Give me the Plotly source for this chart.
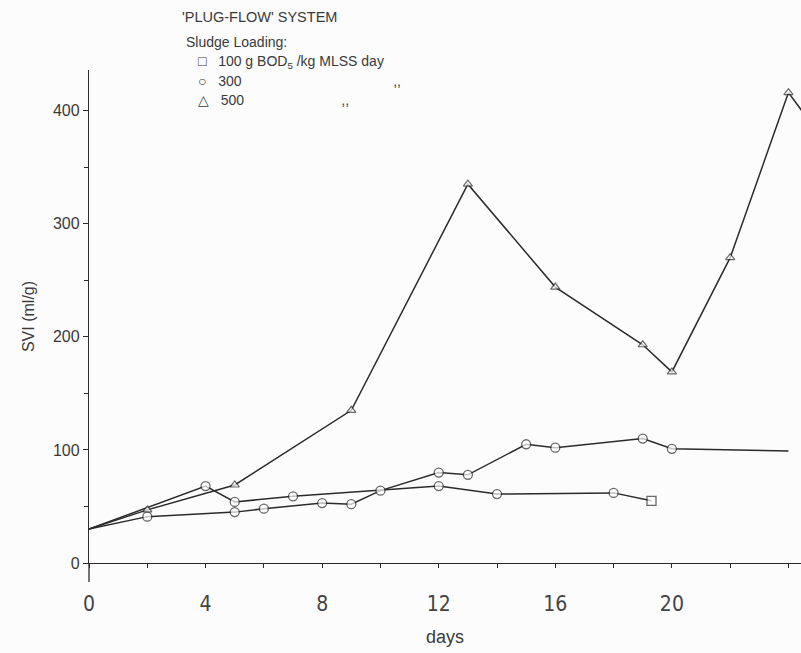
import plotly.graph_objects as go

# ---- data ----
days_100 = [0, 4, 5, 7, 12, 14, 18, 19.3]
svi_100 = [30, 68, 54, 59, 68, 61, 62, 55]

days_300 = [0, 2, 5, 6, 8, 9, 10, 12, 13, 15, 16, 19, 20, 24]
svi_300 = [30, 41, 45, 48, 53, 52, 64, 80, 78, 105, 102, 110, 101, 99]

days_500 = [0, 2, 5, 9, 13, 16, 19, 20, 22, 24, 25]
svi_500 = [30, 47, 69, 135, 335, 244, 193, 169, 270, 416, 381]

x_tick_vals = [0, 4, 8, 12, 16, 20]
x_tick_text = ["0", "4", "8", "12", "16", "20"]
y_tick_vals = [0, 100, 200, 300, 400]
y_tick_text = ["0", "100", "200", "300", "400"]

# ---- style ----
INK = "#2b2b2b"
TXT = "#3a3a3a"
BG = "#fcfcfc"
FONT = "Liberation Sans, Arial, sans-serif"
NARROW = "Liberation Sans Narrow, DejaVu Sans Condensed, Liberation Sans, sans-serif"

L, R, T, B = 89, 0, 70, 90
W, H = 801, 653
PW, PH = W - L - R, H - T - B


def px(x):
    return (x - L) / PW


def py(y):
    return (H - B - y) / PH


fig = go.Figure()

sizes_100 = [0] + [9] * (len(days_100) - 1)
symbols_100 = ["circle"] * (len(days_100) - 1) + ["square"]
fig.add_trace(go.Scatter(
    x=days_100, y=svi_100, mode="lines+markers",
    line=dict(color=INK, width=1.5),
    marker=dict(size=sizes_100, symbol=symbols_100, color="white",
                line=dict(color=INK, width=1.3)),
    name="100", showlegend=False))

sizes_300 = [0] + [9] * (len(days_300) - 2) + [0]
fig.add_trace(go.Scatter(
    x=days_300, y=svi_300, mode="lines+markers",
    line=dict(color=INK, width=1.5),
    marker=dict(size=sizes_300, symbol="circle", color="white",
                line=dict(color=INK, width=1.3)),
    name="300", showlegend=False))

sizes_500 = [0] + [8] * (len(days_500) - 2) + [0]
fig.add_trace(go.Scatter(
    x=days_500, y=svi_500, mode="lines+markers",
    line=dict(color=INK, width=1.5),
    marker=dict(size=sizes_500, symbol="triangle-up", color="white",
                line=dict(color=INK, width=1.2)),
    name="500", showlegend=False))

fig.update_layout(
    width=W, height=H,
    margin=dict(l=L, r=R, t=T, b=B),
    paper_bgcolor=BG, plot_bgcolor=BG,
    font=dict(family=FONT, color=TXT),
    title=dict(text="'PLUG-FLOW' SYSTEM", x=182 / W, xref="container",
               xanchor="left", y=1 - 17 / H, yref="container",
               yanchor="middle",
               font=dict(family=FONT, size=14.5, color=TXT)),
    xaxis=dict(
        range=[0, 24.43], showgrid=False, zeroline=False,
        showline=True, linecolor=INK, linewidth=1.3,
        ticks="outside", ticklen=4, tickwidth=1, tickcolor=INK,
        tickmode="array", tickvals=x_tick_vals, ticktext=x_tick_text,
        minor=dict(tickmode="linear", tick0=0, dtick=2, ticks="outside",
                   ticklen=4, tickwidth=1, tickcolor=INK, showgrid=False),
        tickfont=dict(family=NARROW, size=21, color="#444444"),
        ticklabelstandoff=18,
        title=dict(text="days", standoff=15,
                   font=dict(family=FONT, size=18, color=TXT)),
    ),
    yaxis=dict(
        range=[0, 436], showgrid=False, zeroline=False,
        showline=True, linecolor=INK, linewidth=1.3,
        ticks="outside", ticklen=5, tickwidth=1, tickcolor=INK,
        tickmode="array", tickvals=y_tick_vals, ticktext=y_tick_text,
        minor=dict(tickmode="linear", tick0=0, dtick=50, ticks="outside",
                   ticklen=4, tickwidth=1, tickcolor=INK, showgrid=False),
        tickfont=dict(family=FONT, size=16, color=TXT),
        title=dict(text="SVI (ml/g)", standoff=14,
                   font=dict(family=FONT, size=16, color=TXT)),
    ),
    shapes=[dict(type="line", xref="paper", yref="paper",
                 x0=0, x1=0, y0=0, y1=py(582),
                 line=dict(color=INK, width=1.3))],
)

ann = []


def txt(x, y, s, size=14, anchor="left", **kw):
    ann.append(dict(x=px(x), y=py(y), xref="paper", yref="paper",
                    text=s, showarrow=False, xanchor=anchor, yanchor="middle",
                    font=dict(family=FONT, size=size, color=TXT), **kw))


NB = "\u00a0"
txt(184, 42, "Sludge Loading:", 14)
txt(196, 62, "□" + NB * 3 + "100 g BOD<sub>5</sub> /kg MLSS day", 14)
txt(196, 81, "○" + NB * 3 + "300" + NB * 39 + ",,", 14)
txt(196, 100, "△" + NB * 3 + "500" + NB * 25 + ",,", 14)
fig.update_layout(annotations=ann)

fig.write_html("out.html")
